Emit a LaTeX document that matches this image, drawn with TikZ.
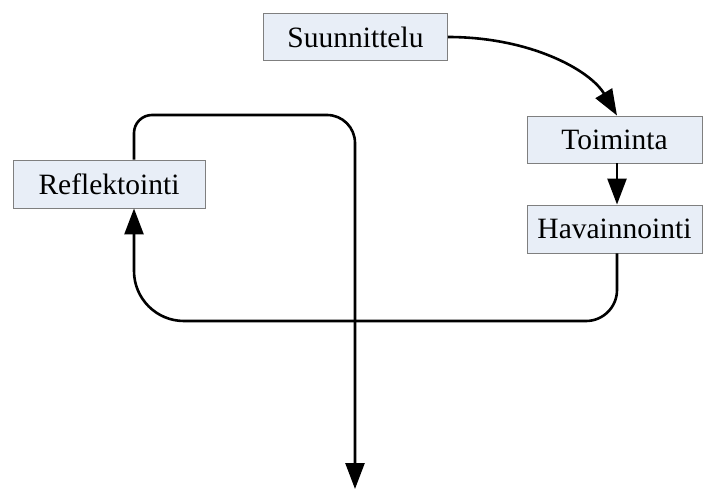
\documentclass[tikz,border=0pt]{standalone}
\usepackage{fontspec}
\setmainfont{Liberation Serif}
\usetikzlibrary{arrows.meta}
\definecolor{boxfill}{HTML}{E8EEF7}
\definecolor{boxline}{HTML}{7F7F7F}
\begin{document}
\begin{tikzpicture}[x=1pt,y=-1pt,
  stepbox/.style={draw=boxline,line width=0.9pt,fill=boxfill,inner sep=0pt,
    font=\fontsize{29.5}{35}\selectfont},
  conn/.style={line width=2.6pt,-{Triangle[length=26pt,width=19pt]}},
  plain/.style={line width=2.6pt}]
\useasboundingbox (0,0) rectangle (703,489);
\node[stepbox,minimum width=184pt,minimum height=47pt] (suun) at (355.5,37) {Suunnittelu};
\node[stepbox,minimum width=175pt,minimum height=47pt] (toim) at (614.5,139.5) {Toiminta};
\node[stepbox,minimum width=175pt,minimum height=48pt] (hav) at (614.5,229) {Havainnointi};
\node[stepbox,minimum width=192pt,minimum height=48pt] (refl) at (109,184) {Reflektointi};
\coordinate (colR) at (617,0);
\coordinate (colL) at (134,0);
\coordinate (colM) at (355,0);
\coordinate (endpt) at (355,489);
% Suunnittelu -> Toiminta
\draw[conn] (suun.east) .. controls (530,37) and (590,70) .. (toim.north -| colR);
% Toiminta -> Havainnointi
\draw[conn] (toim.south -| colR) -- (hav.north -| colR);
% Havainnointi -> Reflektointi
\draw[conn] (hav.south -| colR) -- (617,290)
  .. controls (617,307.1) and (603.1,321) .. (586,321)
  -- (184,321)
  .. controls (156.4,321) and (134,298.6) .. (134,271)
  -- (refl.south -| colL);
% Reflektointi -> out
\draw[conn] (refl.north -| colL) -- (134,133)
  .. controls (134,123.1) and (142.1,115) .. (152,115)
  -- (327,115)
  .. controls (342.5,115) and (355,127.5) .. (355,143)
  -- (endpt);
\end{tikzpicture}
\end{document}
